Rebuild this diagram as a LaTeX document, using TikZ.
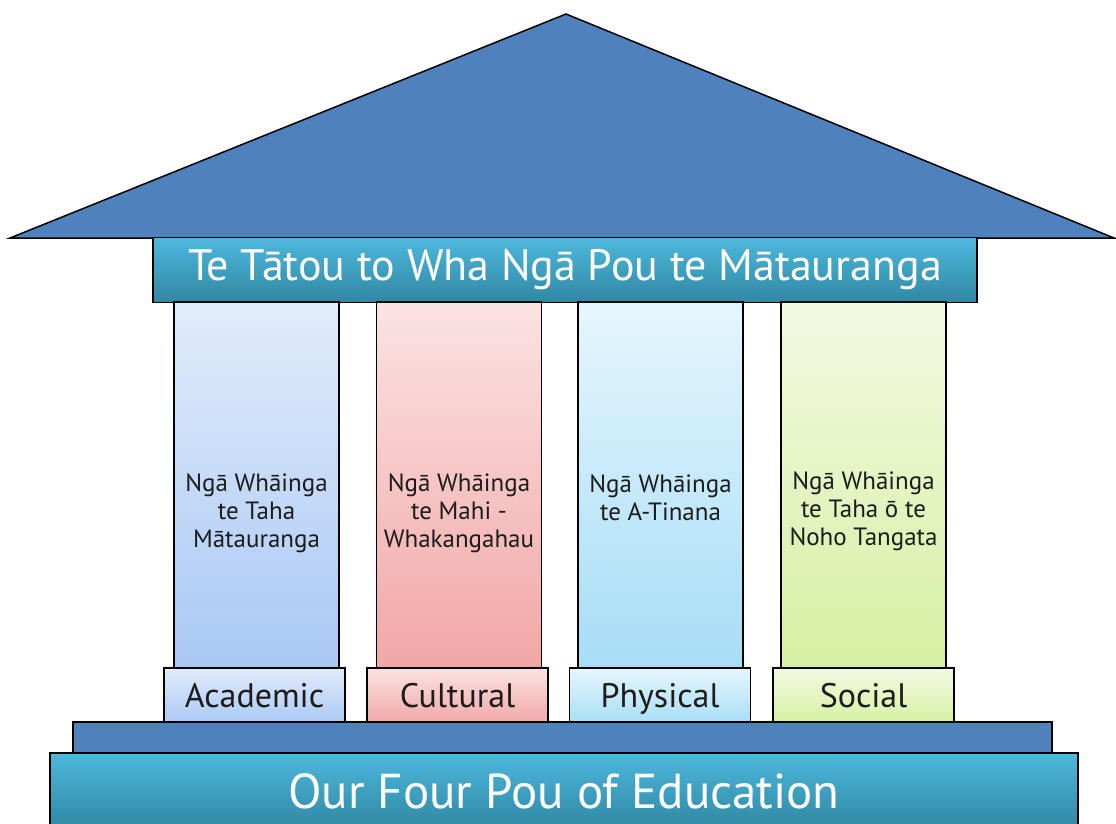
\documentclass[tikz,border=0pt]{standalone}
\usepackage{fontspec}
\setmainfont{PT Sans}
\usetikzlibrary{positioning}
\definecolor{roofblue}{HTML}{4F81BD}
\definecolor{beamtop}{HTML}{4DB8DE}
\definecolor{beambot}{HTML}{3087A2}
\definecolor{acadtop}{HTML}{E2ECFB}
\definecolor{acadbot}{HTML}{A9C8F4}
\definecolor{culttop}{HTML}{FBE3E3}
\definecolor{cultbot}{HTML}{F2A6A6}
\definecolor{phystop}{HTML}{E6F6FD}
\definecolor{physbot}{HTML}{A6DDF6}
\definecolor{soctop}{HTML}{F3F9E2}
\definecolor{socbot}{HTML}{D6F0A2}
\definecolor{inkgray}{HTML}{1C1C1C}
\tikzset{
  beam/.style={rectangle,draw=black,line width=1.2pt,top color=beamtop,
    bottom color=beambot,text=white,inner sep=0pt},
  pillar/.style={rectangle,draw=black,line width=1.2pt,minimum width=165pt,
    minimum height=366pt,inner sep=0pt},
  plinth/.style={rectangle,draw=black,line width=1.2pt,minimum width=181pt,
    minimum height=56pt,inner sep=0pt,text=inkgray,text height=26pt,text depth=4pt,
    font=\fontsize{34}{38}\selectfont},
  pilltext/.style={align=center,anchor=north,inner sep=0pt,text=inkgray,
    font=\fontsize{25}{28}\selectfont}
}
\begin{document}
\begin{tikzpicture}[x=1pt,y=-1pt]
    \useasboundingbox (0,0) rectangle (1116,823);

    % roof
    \coordinate (apex) at (566,14);
    \coordinate (eaveL) at (10,238);
    \coordinate (eaveR) at (1114,238);
    \draw[fill=roofblue,line width=1.5pt,line join=miter] (eaveL) -- (apex) -- (eaveR) -- cycle;

    \node[beam,minimum width=824pt,minimum height=65pt,
          font=\fontsize{44}{48}\selectfont] (top) at (565,270)
         {Te Tātou to Wha Ngā Pou te Mātauranga};

    % pillars
    \node[pillar,top color=acadtop,bottom color=acadbot] (P1) at (256.5,485) {};
    \node[pillar,top color=culttop,bottom color=cultbot] (P2) at (459,485) {};
    \node[pillar,top color=phystop,bottom color=physbot] (P3) at (660.5,485) {};
    \node[pillar,top color=soctop,bottom color=socbot] (P4) at (863.5,485) {};

    \node[pilltext] (T1) at (256.5,474) {Ngā Whāinga\\te Taha\\Mātauranga};
    \node[pilltext] (T2) at (459,474) {Ngā Whāinga\\te Mahi -\\Whakangahau};
    \node[pilltext] (T3) at (660.5,475) {Ngā Whāinga\\te A-Tinana};
    \node[pilltext] (T4) at (863.5,472) {Ngā Whāinga\\te Taha ō te\\Noho Tangata};

    \node[plinth,top color=acadtop,bottom color=acadbot] (B1) at (254.5,696) {Academic};
    \node[plinth,top color=culttop,bottom color=cultbot] (B2) at (457.5,696) {Cultural};
    \node[plinth,top color=phystop,bottom color=physbot] (B3) at (660,696) {Physical};
    \node[plinth,top color=soctop,bottom color=socbot] (B4) at (863.5,696) {Social};

    % floor
    \node[rectangle,draw=black,line width=1.2pt,fill=roofblue,minimum width=979pt,
          minimum height=31pt] (floor) at (562.5,737.5) {};
    \node[beam,minimum width=1028pt,minimum height=76pt,
          font=\fontsize{49}{53}\selectfont] (base) at (564,791)
         {Our Four Pou of Education};
\end{tikzpicture}
\end{document}
